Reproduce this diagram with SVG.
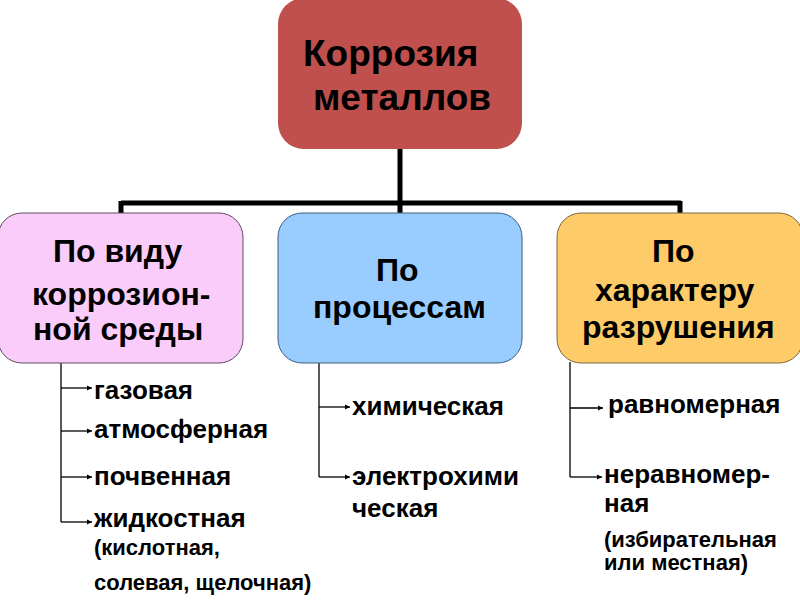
<svg xmlns="http://www.w3.org/2000/svg" width="800" height="600" viewBox="0 0 800 600">
<style>
text{font-family:"Liberation Sans",Arial,sans-serif;font-weight:bold;fill:#000}
.h0{font-size:37px}
.h1{font-size:32px}
.li{font-size:26px}
.sm{font-size:22px}
.trunk{stroke:#000;stroke-width:5;fill:none}
.br{stroke:#000;stroke-width:1.3;fill:none}
.arr{stroke:#000;stroke-width:1.3;fill:none;marker-end:url(#ah)}
</style>
<defs>
<marker id="ah" markerUnits="userSpaceOnUse" markerWidth="6" markerHeight="6" refX="5" refY="3" orient="auto">
<path d="M0,0.5 L5,3 L0,5.5 Z" fill="#000"/>
</marker>
</defs>
<rect width="800" height="600" fill="#fff"/>
<g id="connectors">
<path class="trunk" d="M400,148 V203 M121,203 H681 M121,201 V214 M680,201 V214 M400,203 V214"/>
<path class="br" d="M61,362 V522"/>
<path class="arr" d="M61,388 H92"/>
<path class="arr" d="M61,431 H92"/>
<path class="arr" d="M61,477 H92"/>
<path class="arr" d="M61,522 H92"/>
<path class="br" d="M319,362 V477"/>
<path class="arr" d="M319,407 H350"/>
<path class="arr" d="M319,477 H350"/>
<path class="br" d="M570,362 V477"/>
<path class="arr" d="M570,408 H603"/>
<path class="arr" d="M570,477 H602"/>
</g>
<g id="root">
<rect x="278" y="-2" width="244" height="151" rx="26" fill="#C0504D"/>
<text class="h0" x="303" y="66">Коррозия</text>
<text class="h0" x="313" y="110">металлов</text>
</g>
<g id="medium">
<rect x="-2" y="213" width="245" height="150" rx="24" fill="#FACCFA" stroke="#5E4E5E" stroke-width="1"/>
<text class="h1" x="53" y="262">По виду</text>
<text class="h1" x="32" y="305">коррозион-</text>
<text class="h1" x="33" y="340">ной среды</text>
</g>
<g id="process">
<rect x="278" y="213" width="244" height="150" rx="24" fill="#99CCFF" stroke="#3F5F80" stroke-width="1"/>
<text class="h1" x="376" y="281">По</text>
<text class="h1" x="313" y="318">процессам</text>
</g>
<g id="damage">
<rect x="557" y="213" width="246" height="150" rx="24" fill="#FDCB68" stroke="#7A6A40" stroke-width="1"/>
<text class="h1" x="652" y="262">По</text>
<text class="h1" x="595" y="301">характеру</text>
<text class="h1" x="582" y="338">разрушения</text>
</g>
<g id="medium-list">
<text class="li" x="94" y="399">газовая</text>
<text class="li" x="94" y="438">атмосферная</text>
<text class="li" x="94" y="485">почвенная</text>
<text class="li" x="94" y="527">жидкостная</text>
<text class="sm" x="94" y="555">(кислотная,</text>
<text class="sm" x="94" y="590">солевая, щелочная)</text>
</g>
<g id="process-list">
<text class="li" x="352" y="415">химическая</text>
<text class="li" x="352" y="485">электрохими</text>
<text class="li" x="352" y="517">ческая</text>
</g>
<g id="damage-list">
<text class="li" x="608" y="413">равномерная</text>
<text class="li" x="604" y="483">неравномер-</text>
<text class="li" x="604" y="512">ная</text>
<text class="sm" x="604" y="547">(избирательная</text>
<text class="sm" x="604" y="570">или местная)</text>
</g>
</svg>
